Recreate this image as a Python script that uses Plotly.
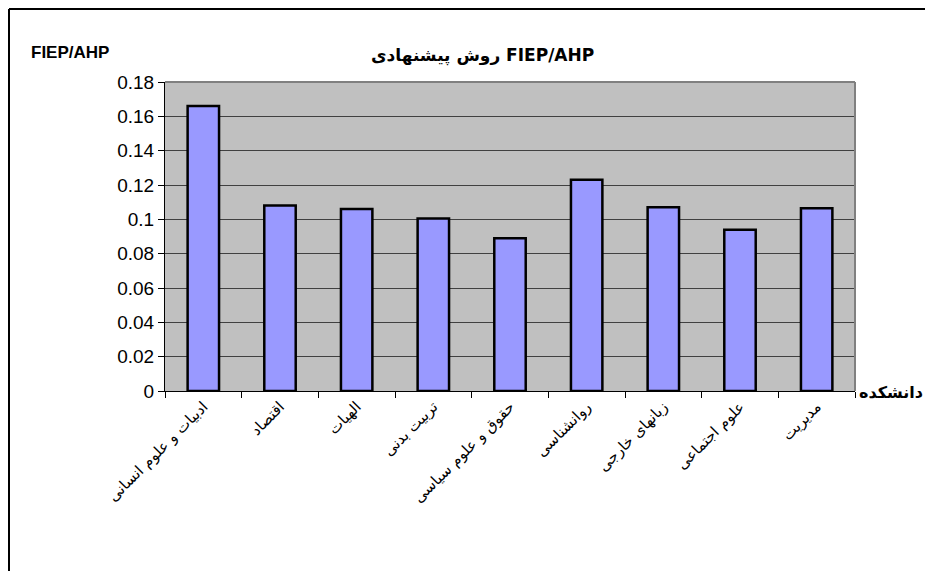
import plotly.graph_objects as go

categories = [
    "ادبیات و علوم انسانی",
    "اقتصاد",
    "الهیات",
    "تربیت بدنی",
    "حقوق و علوم سیاسی",
    "روانشناسی",
    "زبانهای خارجی",
    "علوم اجتماعی",
    "مدیریت",
]
values = [0.166, 0.108, 0.106, 0.1005, 0.089, 0.123, 0.107, 0.094, 0.1065]
y_ticks = [0, 0.02, 0.04, 0.06, 0.08, 0.1, 0.12, 0.14, 0.16, 0.18]
y_tick_labels = ["0", "0.02", "0.04", "0.06", "0.08", "0.1", "0.12", "0.14", "0.16", "0.18"]
title_text = "روش پیشنهادی FIEP/AHP"
y_title = "FIEP/AHP"
x_title = "دانشکده"

# page has an 8px body margin; figure sized to fit the 933x571 window
OFF = 8
W, H = 925, 563
# plot area in page pixels: x 165..855, y 82..391
L, T = 165 - OFF, 82 - OFF
R = W - (855 - OFF)
B = H - (391 - OFF)
pw, ph = W - L - R, H - T - B


def px(x_page):
    return (x_page - OFF - L) / pw


def py(y_page):
    return (H - B - (y_page - OFF)) / ph


FONT = "Arial, Liberation Sans, DejaVu Sans, sans-serif"

fig = go.Figure(
    go.Bar(
        x=categories,
        y=values,
        marker=dict(color="#9999FF", line=dict(color="black", width=2.5)),
        width=0.41,
    )
)

fig.update_layout(
    width=W,
    height=H,
    margin=dict(l=L, r=R, t=T, b=B),
    paper_bgcolor="white",
    plot_bgcolor="#C0C0C0",
    showlegend=False,
    font=dict(family=FONT, color="black"),
    shapes=[
        dict(type="line", xref="paper", yref="paper", x0=px(9), x1=px(9), y0=py(600), y1=py(9),
             line=dict(color="black", width=2)),
        dict(type="line", xref="paper", yref="paper", x0=px(9), x1=px(960), y0=py(9), y1=py(9),
             line=dict(color="black", width=2)),
        dict(type="line", xref="paper", yref="paper", x0=1, x1=1, y0=0, y1=1,
             line=dict(color="#808080", width=2)),
        dict(type="line", xref="paper", yref="paper", x0=0, x1=1, y0=1, y1=1,
             line=dict(color="#808080", width=2)),
    ],
    annotations=[
        dict(text="<b>" + title_text + "</b>", xref="paper", yref="paper", x=px(482), y=py(55),
             showarrow=False, font=dict(size=17, family="DejaVu Sans, sans-serif"),
             xanchor="center", yanchor="middle"),
        dict(text="<b>" + y_title + "</b>", xref="paper", yref="paper", x=px(70), y=py(53),
             showarrow=False, font=dict(size=17), xanchor="center", yanchor="middle"),
        dict(text="<b>" + x_title + "</b>", xref="paper", yref="paper", x=px(857), y=py(392),
             showarrow=False, font=dict(size=16, family="DejaVu Sans, sans-serif"),
             xanchor="left", yanchor="middle"),
    ],
)

fig.update_xaxes(
    tickangle=-45,
    ticks="outside",
    tickson="boundaries",
    ticklen=6,
    tickcolor="black",
    showline=True,
    linecolor="black",
    linewidth=1,
    tickfont=dict(size=15, family="DejaVu Sans, sans-serif"),
    showgrid=False,
)
fig.update_yaxes(
    range=[0, 0.18],
    tickvals=y_ticks,
    ticktext=y_tick_labels,
    ticks="outside",
    ticklen=6,
    tickcolor="black",
    showline=True,
    linecolor="black",
    linewidth=1,
    showgrid=True,
    gridcolor="#404040",
    gridwidth=1,
    zeroline=False,
    tickfont=dict(size=19, family=FONT),
)

fig.write_html("out.html")
